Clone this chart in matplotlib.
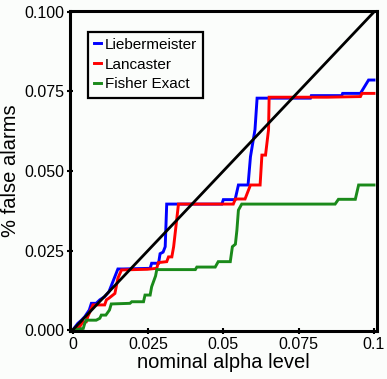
import matplotlib
matplotlib.use("Agg")
import matplotlib.pyplot as plt

plt.rcParams['font.family'] = ['Liberation Sans', 'DejaVu Sans']

# ---- data ----
lieb_x = [0.0, 0.0017, 0.0029, 0.0040, 0.0055, 0.0062, 0.0078, 0.0090, 0.0106, 0.0120,
          0.0140, 0.0150, 0.0167, 0.0257, 0.0262, 0.0285, 0.0290, 0.0300, 0.0307, 0.0312,
          0.0345, 0.0495, 0.0500, 0.0539, 0.0550, 0.0582, 0.0590, 0.0605, 0.0612, 0.0789,
          0.0792, 0.0839, 0.0893, 0.0896, 0.0955, 0.0982, 0.0995, 0.1000]
lieb_y = [0.0, 0.0021, 0.0031, 0.0042, 0.0063, 0.0084, 0.0084, 0.0095, 0.0105, 0.0120,
          0.0168, 0.0192, 0.0192, 0.0194, 0.0210, 0.0210, 0.0240, 0.0245, 0.0262, 0.0396,
          0.0396, 0.0396, 0.0410, 0.0410, 0.0456, 0.0456, 0.0545, 0.0630, 0.0729, 0.0729,
          0.0737, 0.0737, 0.0737, 0.0744, 0.0744, 0.0786, 0.0786, 0.0786]

lanc_x = [0.0, 0.0023, 0.0034, 0.0045, 0.0050, 0.0067, 0.0106, 0.0112, 0.0120, 0.0140,
          0.0150, 0.0162, 0.0247, 0.0279, 0.0284, 0.0312, 0.0318, 0.0329, 0.0335, 0.0351,
          0.0533, 0.0540, 0.0572, 0.0590, 0.0622, 0.0628, 0.0640, 0.0650, 0.0652, 0.0844,
          0.0955, 0.0960, 0.1000]
lanc_y = [0.0, 0.0010, 0.0026, 0.0026, 0.0042, 0.0079, 0.0079, 0.0095, 0.0100, 0.0115,
          0.0163, 0.0189, 0.0191, 0.0194, 0.0212, 0.0215, 0.0230, 0.0230, 0.0262, 0.0396,
          0.0396, 0.0412, 0.0412, 0.0456, 0.0456, 0.0550, 0.0550, 0.0630, 0.0732, 0.0732,
          0.0734, 0.0744, 0.0744]

fish_x = [0.0, 0.0035, 0.0040, 0.0045, 0.0078, 0.0090, 0.0095, 0.0110, 0.0122, 0.0128,
          0.0190, 0.0196, 0.0235, 0.0240, 0.0257, 0.0262, 0.0275, 0.0279, 0.0407, 0.0412,
          0.0473, 0.0483, 0.0523, 0.0530, 0.0540, 0.0545, 0.0550, 0.0561, 0.0871, 0.0882,
          0.0938, 0.0949, 0.1000]
fish_y = [0.0, 0.0005, 0.0021, 0.0031, 0.0031, 0.0037, 0.0047, 0.0047, 0.0063, 0.0082,
          0.0084, 0.0089, 0.0089, 0.0110, 0.0110, 0.0136, 0.0170, 0.0190, 0.0190, 0.0198,
          0.0198, 0.0215, 0.0215, 0.0262, 0.0270, 0.0314, 0.0377, 0.0396, 0.0396, 0.0411,
          0.0411, 0.0456, 0.0456]

diag_x = [0.0, 0.1]
diag_y = [0.0, 0.1]

ticks = [0.0, 0.025, 0.05, 0.075, 0.1]
xtick_labels = ["0", "0.025", "0.05", "0.075", "0.1"]
ytick_labels = ["0.000", "0.025", "0.050", "0.075", "0.100"]

bg = '#fbfdfb'
fig = plt.figure(figsize=(3.87, 3.79), dpi=100, facecolor=bg)
ax = fig.add_axes([70/387, 1 - 331/379, 307/387, 320/379], facecolor=bg)

ax.plot(lieb_x, lieb_y, color='#0000ff', lw=2.1, label='Liebermeister', solid_joinstyle='miter')
ax.plot(lanc_x, lanc_y, color='#ff0000', lw=2.1, label='Lancaster', solid_joinstyle='miter')
ax.plot(fish_x, fish_y, color='#1a8a1a', lw=2.1, label='Fisher Exact', solid_joinstyle='miter')
ax.plot(diag_x, diag_y, color='black', lw=2.0)

ax.set_xlim(-0.0009, 0.101)
ax.set_ylim(-0.0003, 0.1003)
ax.set_xticks(ticks)
ax.set_xticklabels(xtick_labels)
ax.set_yticks(ticks)
ax.set_yticklabels(ytick_labels)
ax.tick_params(direction='inout', length=4, width=1.5, labelsize=11.5, pad=2, colors='black')

for s in ax.spines.values():
    s.set_linewidth(2.2)
    s.set_color('black')

ax.set_xlabel('nominal alpha level', fontsize=14.5, labelpad=1)
ax.set_ylabel('% false alarms', fontsize=14.5, labelpad=3)

leg = ax.legend(loc='upper left', bbox_to_anchor=(87.7/387, 1 - 31.7/379),
                bbox_transform=fig.transFigure, borderaxespad=0,
                fontsize=11, handlelength=0.5, handletextpad=0.2, borderpad=0.4,
                labelspacing=0.38, fancybox=False, framealpha=1, facecolor=bg,
                edgecolor='black')
leg.get_frame().set_linewidth(1.6)

fig.savefig('out.png', dpi=100, facecolor=bg)
